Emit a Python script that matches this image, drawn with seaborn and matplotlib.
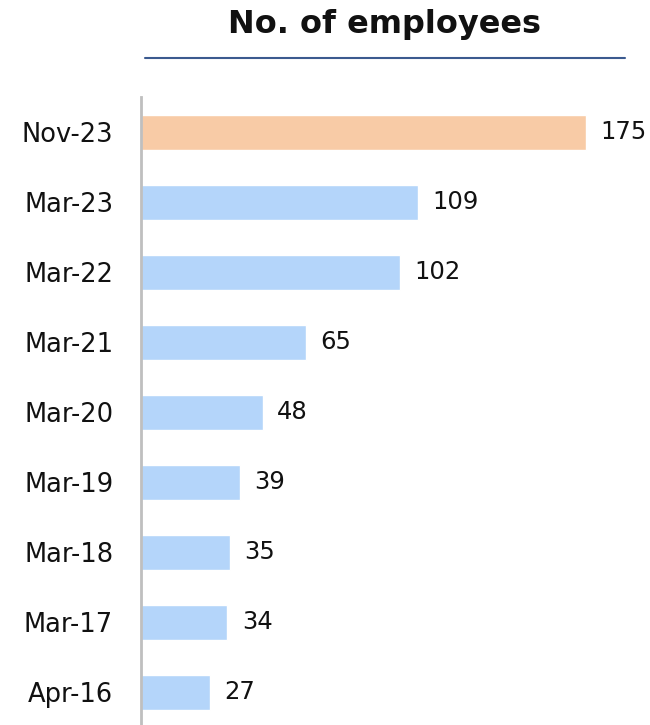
import matplotlib
matplotlib.use("Agg")
import matplotlib.pyplot as plt
import seaborn as sns
import pandas as pd
from matplotlib.lines import Line2D

categories = ["Nov-23", "Mar-23", "Mar-22", "Mar-21", "Mar-20", "Mar-19", "Mar-18", "Mar-17", "Apr-16"]
values = [175, 109, 102, 65, 48, 39, 35, 34, 27]
highlight = ["Nov-23"]

df = pd.DataFrame({"period": categories, "employees": values})
df["kind"] = ["hi" if c in highlight else "lo" for c in categories]

sns.set_theme(style="white")
plt.rcParams["font.family"] = ["DejaVu Sans"]

fig = plt.figure(figsize=(6.5, 7.25), dpi=100)
ax = fig.add_axes([141 / 650, 0.0, (625 - 141) / 650, (725 - 97) / 725])

palette = {"hi": "#F8CBA6", "lo": "#B4D5FA"}
sns.barplot(data=df, x="employees", y="period", hue="kind", palette=palette,
            dodge=False, width=0.5, legend=False, ax=ax, saturation=1)

ax.set_xlim(0, 190.3)
ax.set_ylim(8.47, -0.5)
ax.set_xlabel("")
ax.set_ylabel("")
ax.set_xticks([])
for s in ["top", "right", "bottom"]:
    ax.spines[s].set_visible(False)
ax.spines["left"].set_color("#BFBFBF")
ax.spines["left"].set_linewidth(2)
ax.tick_params(axis="y", length=0, pad=20, labelsize=18.5, labelcolor="#111111")

for i, v in enumerate(values):
    ax.text(v + 5.6, i, str(v), va="center", ha="left", fontsize=17.5, color="#111111")

fig.text(385 / 650, 1 - 24 / 725, "No. of employees", ha="center", va="center",
         fontsize=23, fontweight="bold", color="#111111")
fig.add_artist(Line2D([145 / 650, 625 / 650], [1 - 58 / 725, 1 - 58 / 725],
                      color="#3B5A8F", linewidth=1.5, transform=fig.transFigure))

fig.savefig("out.png", dpi=100)
